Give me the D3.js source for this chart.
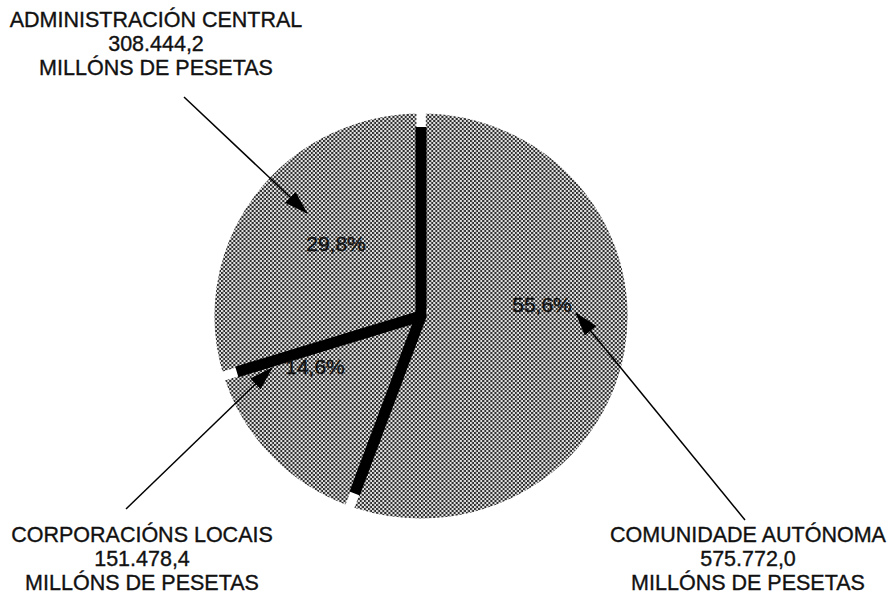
<!DOCTYPE html>
<meta charset="utf-8">
<style>
  body { margin: 0; background: #fff; }
  text { font-family: "Liberation Sans", Arial, Helvetica, sans-serif; fill: #111; stroke: #111; stroke-width: 0.35px; }
</style>
<svg width="891" height="597"></svg>
<script src="https://d3js.org/d3.v7.min.js"></script>
<script>

// data (millions of pesetas)
var sectors = ["COMUNIDADE AUTÓNOMA", "CORPORACIÓNS LOCAIS", "ADMINISTRACIÓN CENTRAL"]
var amounts = [575772.0, 151478.4, 308444.2]
var unitLabel = "MILLÓNS DE PESETAS"

// galician number style: 575.772,0 and 55,6%
var locale = d3.formatLocale({ decimal: ",", thousands: ".", grouping: [3], currency: ["", " pta"] })
var fmtAmount = locale.format(",.1f")
var fmtPct = locale.format(".1%")

var cx = 421
var cy = 316
var radius = 207
var stretch = 1.02 // the printed pie is a touch wider than tall

var svg = d3.select('svg')

// checker dither like the printed original
var defs = svg.append('defs')
var pat = defs.append('pattern')
  .attr('id', 'dither')
  .attr('width', 4).attr('height', 4)
  .attr('patternUnits', 'userSpaceOnUse')
pat.append('rect').attr('width', 4).attr('height', 4).attr('fill', '#e2e2e2')
pat.append('rect').attr('width', 2).attr('height', 2).attr('fill', '#2e2e2e')
pat.append('rect').attr('x', 2).attr('y', 2).attr('width', 2).attr('height', 2).attr('fill', '#2e2e2e')

defs.append('marker')
  .attr('id', 'head')
  .attr('viewBox', '0 -8 24 16')
  .attr('refX', 23).attr('refY', 0)
  .attr('markerWidth', 24).attr('markerHeight', 16)
  .attr('markerUnits', 'userSpaceOnUse')
  .attr('orient', 'auto')
  .append('path')
  .attr('d', 'M0,-7.5L24,0L0,7.5Z')
  .attr('fill', '#000')

var total = d3.sum(amounts)
var rows = sectors.map(function (s, i) { return { name: s, value: amounts[i] } })

var pie = d3.pie().sort(null).value(function (d) { return d.value })
var arcs = pie(rows)

var arc = d3.arc().innerRadius(0).outerRadius(radius)

var g = svg.append('g').attr('transform', 'translate(' + cx + ',' + cy + ') scale(' + stretch + ',1)')

g.selectAll('path.slice')
  .data(arcs)
  .enter().append('path')
  .attr('class', 'slice')
  .attr('d', arc)
  .attr('fill', 'url(#dither)')
  .attr('stroke', '#fff')
  .attr('stroke-width', 9)
  .attr('stroke-linejoin', 'miter')

// thick black separators along the slice edges
var sepR = 189
var sep = svg.append('g').attr('transform', 'translate(' + cx + ',' + cy + ')')
sep.selectAll('line.sep')
  .data(arcs)
  .enter().append('line')
  .attr('class', 'sep')
  .attr('x1', 0).attr('y1', 0)
  .attr('x2', function (d) { return stretch * sepR * Math.sin(d.startAngle) })
  .attr('y2', function (d) { return -sepR * Math.cos(d.startAngle) })
  .attr('stroke', '#000')
  .attr('stroke-width', 11)
sep.append('circle').attr('r', 5.5).attr('fill', '#000')

// percentage labels inside slices
var pctPos = [[542, 312], [315, 374], [336, 251]]
svg.selectAll('text.pct')
  .data(arcs)
  .enter().append('text')
  .attr('class', 'pct')
  .attr('x', function (d, i) { return pctPos[i][0] })
  .attr('y', function (d, i) { return pctPos[i][1] })
  .attr('text-anchor', 'middle')
  .attr('font-size', 21)
  .text(function (d) { return fmtPct(d.value / total) })

// outside labels
var labelPos = [[748, 542], [142, 542], [156, 27]]
var lineGap = 24
var labels = svg.selectAll('text.lab')
  .data(rows)
  .enter().append('text')
  .attr('class', 'lab')
  .attr('text-anchor', 'middle')
  .attr('font-size', 21.5)
  .attr('x', function (d, i) { return labelPos[i][0] })
  .attr('y', function (d, i) { return labelPos[i][1] })

labels.each(function (d, i) {
  var t = d3.select(this)
  var x = labelPos[i][0]
  ;[d.name, fmtAmount(d.value), unitLabel].forEach(function (s, k) {
    t.append('tspan').attr('x', x).attr('dy', k === 0 ? 0 : lineGap).text(s)
  })
})

// leader arrows from label to slice
var arrows = [
  [[745, 520], [576, 313]],
  [[126, 509], [272, 368]],
  [[184, 97], [307, 213]]
]
svg.selectAll('line.arrow')
  .data(arrows)
  .enter().append('line')
  .attr('class', 'arrow')
  .attr('x1', function (d) { return d[0][0] })
  .attr('y1', function (d) { return d[0][1] })
  .attr('x2', function (d) { return d[1][0] })
  .attr('y2', function (d) { return d[1][1] })
  .attr('stroke', '#000')
  .attr('stroke-width', 1.5)
  .attr('marker-end', 'url(#head)')

</script>
